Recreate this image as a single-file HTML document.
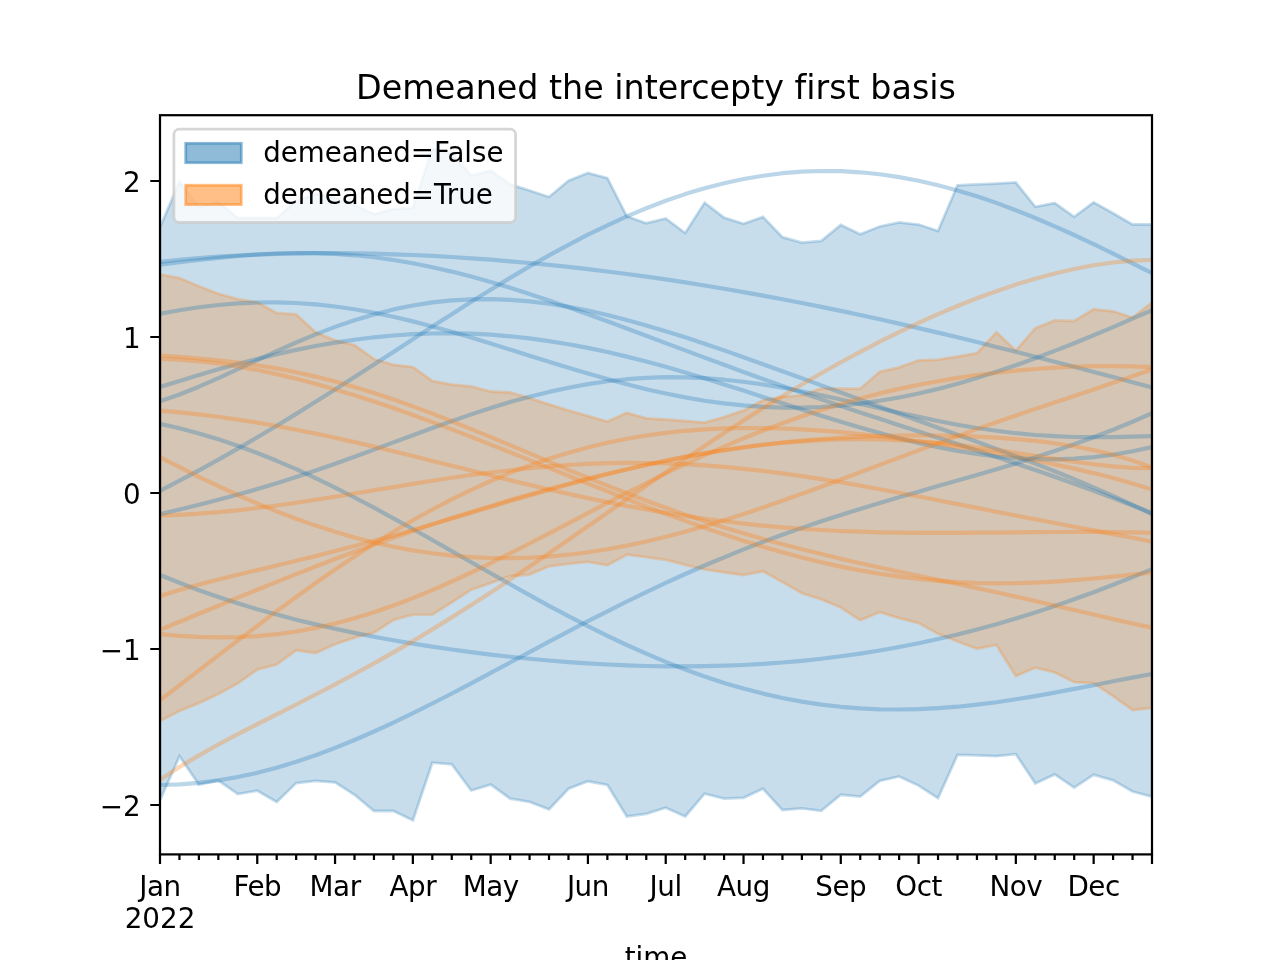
<!DOCTYPE html>
<html><head><meta charset="utf-8"><title>Demeaned the intercepty first basis</title>
<style>html,body{margin:0;padding:0;background:#fff;overflow:hidden}body{width:1280px;height:960px;position:relative}</style></head>
<body>
<svg width="1280" height="960" viewBox="0 0 1280 960" style="position:absolute;left:0;top:0">
<defs><clipPath id="ax"><rect x="160" y="115.2" width="992" height="739.2"/></clipPath></defs>
<rect width="1280" height="960" fill="#fff"/>
<g clip-path="url(#ax)" fill="none" stroke-linejoin="round" stroke-linecap="butt">
<path d="M160.0,227.3 L179.5,181.6 L198.9,207.0 L218.4,202.0 L237.8,218.0 L257.3,218.0 L276.7,218.0 L296.2,201.0 L315.6,193.8 L335.1,197.9 L354.5,205.0 L374.0,214.0 L393.4,209.0 L412.9,208.0 L432.3,149.0 L451.8,153.5 L471.2,175.7 L490.7,170.6 L510.1,184.4 L529.6,190.5 L549.0,197.0 L568.5,180.8 L587.9,173.0 L607.4,178.1 L626.8,216.3 L646.3,223.2 L665.7,218.4 L685.2,233.0 L704.6,202.7 L724.1,217.7 L743.5,223.8 L763.0,216.9 L782.4,237.2 L801.9,242.7 L821.3,240.9 L840.8,225.0 L860.2,234.2 L879.7,226.5 L899.1,222.4 L918.6,224.5 L938.0,231.0 L957.5,185.3 L976.9,184.4 L996.4,183.6 L1015.8,182.4 L1035.3,206.8 L1054.7,203.1 L1074.2,216.9 L1093.6,202.3 L1113.1,213.3 L1132.5,224.5 L1152.0,224.5 L1152.0,796.8 L1132.5,791.5 L1113.1,780.3 L1093.6,774.8 L1074.2,787.6 L1054.7,774.4 L1035.3,783.6 L1015.8,754.1 L996.4,756.2 L976.9,755.3 L957.5,754.9 L938.0,798.2 L918.6,785.6 L899.1,776.5 L879.7,780.9 L860.2,796.6 L840.8,794.8 L821.3,810.8 L801.9,808.4 L782.4,810.0 L763.0,788.7 L743.5,797.8 L724.1,798.6 L704.6,793.7 L685.2,816.5 L665.7,807.7 L646.3,813.8 L626.8,816.5 L607.4,785.0 L587.9,781.3 L568.5,788.7 L549.0,809.4 L529.6,801.9 L510.1,798.6 L490.7,784.6 L471.2,790.5 L451.8,764.3 L432.3,762.7 L412.9,820.3 L393.4,811.0 L374.0,811.0 L354.5,794.8 L335.1,782.4 L315.6,780.9 L296.2,783.0 L276.7,801.9 L257.3,790.7 L237.8,794.1 L218.4,780.5 L198.9,784.6 L179.5,756.2 L160.0,800.2 Z" fill="#1f77b4" fill-opacity="0.25" stroke="#1f77b4" stroke-opacity="0.25" stroke-width="2.78" stroke-linejoin="miter"/>
<path d="M160.0,274.4 L179.5,278.0 L198.9,286.2 L218.4,293.7 L237.8,299.2 L257.3,302.4 L276.7,313.0 L296.2,314.4 L315.6,332.3 L335.1,340.4 L354.5,345.1 L374.0,359.1 L393.4,364.8 L412.9,367.0 L432.3,380.9 L451.8,384.6 L471.2,386.4 L490.7,391.5 L510.1,392.5 L529.6,398.2 L549.0,404.3 L568.5,410.4 L587.9,415.9 L607.4,421.6 L626.8,412.8 L646.3,418.3 L665.7,419.5 L685.2,421.0 L704.6,422.6 L724.1,417.1 L743.5,410.4 L763.0,400.2 L782.4,396.8 L801.9,395.2 L821.3,388.5 L840.8,388.7 L860.2,388.7 L879.7,371.8 L899.1,367.4 L918.6,360.3 L938.0,359.7 L957.5,356.6 L976.9,353.2 L996.4,332.3 L1015.8,350.5 L1035.3,328.2 L1054.7,320.5 L1074.2,320.9 L1093.6,309.3 L1113.1,311.3 L1132.5,317.6 L1152.0,302.4 L1152.0,708.0 L1132.5,710.0 L1113.1,696.2 L1093.6,683.0 L1074.2,682.2 L1054.7,672.4 L1035.3,667.7 L1015.8,676.1 L996.4,645.0 L976.9,648.7 L957.5,641.5 L938.0,633.8 L918.6,623.1 L899.1,618.2 L879.7,612.2 L860.2,620.3 L840.8,607.5 L821.3,599.4 L801.9,593.3 L782.4,582.1 L763.0,571.3 L743.5,575.0 L724.1,572.4 L704.6,569.5 L685.2,564.8 L665.7,559.8 L646.3,557.2 L626.8,554.7 L607.4,565.3 L587.9,561.8 L568.5,563.8 L549.0,566.3 L529.6,574.6 L510.1,576.0 L490.7,583.1 L471.2,589.8 L451.8,602.4 L432.3,614.6 L412.9,614.6 L393.4,620.1 L374.0,632.7 L354.5,637.7 L335.1,644.2 L315.6,653.0 L296.2,650.3 L276.7,664.5 L257.3,669.6 L237.8,683.4 L218.4,694.0 L198.9,703.1 L179.5,710.9 L160.0,721.0 Z" fill="#ff7f0e" fill-opacity="0.25" stroke="#ff7f0e" stroke-opacity="0.25" stroke-width="2.78" stroke-linejoin="miter"/>
<path d="M160.0,261.9 L179.5,259.8 L198.9,258.1 L218.4,256.7 L237.8,255.5 L257.3,254.6 L276.7,253.9 L296.2,253.4 L315.6,253.2 L335.1,253.2 L354.5,253.4 L374.0,253.7 L393.4,254.3 L412.9,255.0 L432.3,255.9 L451.8,257.0 L471.2,258.3 L490.7,259.7 L510.1,261.3 L529.6,263.0 L549.0,264.9 L568.5,266.9 L587.9,269.1 L607.4,271.5 L626.8,274.0 L646.3,276.6 L665.7,279.4 L685.2,282.4 L704.6,285.5 L724.1,288.7 L743.5,292.1 L763.0,295.6 L782.4,299.2 L801.9,303.0 L821.3,306.9 L840.8,310.9 L860.2,315.0 L879.7,319.3 L899.1,323.6 L918.6,328.1 L938.0,332.6 L957.5,337.3 L976.9,342.0 L996.4,346.9 L1015.8,351.8 L1035.3,356.7 L1054.7,361.7 L1074.2,366.8 L1093.6,371.9 L1113.1,377.1 L1132.5,382.2 L1152.0,387.4" stroke="#1f77b4" stroke-opacity="0.3" stroke-width="4.17"/>
<path d="M160.0,264.6 L179.5,262.3 L198.9,260.0 L218.4,257.9 L237.8,256.0 L257.3,254.5 L276.7,253.5 L296.2,253.0 L315.6,253.1 L335.1,253.9 L354.5,255.3 L374.0,257.3 L393.4,260.0 L412.9,263.3 L432.3,267.2 L451.8,271.6 L471.2,276.6 L490.7,282.0 L510.1,287.8 L529.6,294.0 L549.0,300.5 L568.5,307.2 L587.9,314.2 L607.4,321.3 L626.8,328.5 L646.3,335.8 L665.7,343.1 L685.2,350.4 L704.6,357.6 L724.1,364.8 L743.5,372.0 L763.0,379.0 L782.4,385.9 L801.9,392.7 L821.3,399.4 L840.8,405.9 L860.2,412.4 L879.7,418.8 L899.1,425.2 L918.6,431.5 L938.0,437.8 L957.5,444.1 L976.9,450.5 L996.4,456.9 L1015.8,463.4 L1035.3,470.0 L1054.7,476.8 L1074.2,483.7 L1093.6,490.8 L1113.1,498.1 L1132.5,505.5 L1152.0,513.0" stroke="#1f77b4" stroke-opacity="0.3" stroke-width="4.17"/>
<path d="M160.0,313.6 L179.5,310.2 L198.9,307.3 L218.4,305.0 L237.8,303.4 L257.3,302.5 L276.7,302.4 L296.2,303.0 L315.6,304.4 L335.1,306.5 L354.5,309.3 L374.0,312.8 L393.4,316.8 L412.9,321.4 L432.3,326.4 L451.8,331.8 L471.2,337.6 L490.7,343.5 L510.1,349.6 L529.6,355.7 L549.0,361.8 L568.5,367.8 L587.9,373.6 L607.4,379.1 L626.8,384.3 L646.3,389.2 L665.7,393.5 L685.2,397.4 L704.6,400.7 L724.1,403.4 L743.5,405.4 L763.0,406.8 L782.4,407.6 L801.9,407.6 L821.3,407.0 L840.8,405.6 L860.2,403.5 L879.7,400.8 L899.1,397.5 L918.6,393.5 L938.0,388.9 L957.5,383.7 L976.9,378.0 L996.4,371.8 L1015.8,365.2 L1035.3,358.2 L1054.7,350.9 L1074.2,343.2 L1093.6,335.3 L1113.1,327.1 L1132.5,318.7 L1152.0,310.2" stroke="#1f77b4" stroke-opacity="0.3" stroke-width="4.17"/>
<path d="M160.0,387.0 L179.5,380.9 L198.9,375.0 L218.4,369.3 L237.8,363.9 L257.3,358.9 L276.7,354.2 L296.2,349.9 L315.6,346.0 L335.1,342.6 L354.5,339.7 L374.0,337.3 L393.4,335.5 L412.9,334.2 L432.3,333.5 L451.8,333.3 L471.2,333.7 L490.7,334.7 L510.1,336.3 L529.6,338.4 L549.0,341.1 L568.5,344.2 L587.9,347.9 L607.4,352.0 L626.8,356.6 L646.3,361.5 L665.7,366.8 L685.2,372.4 L704.6,378.3 L724.1,384.4 L743.5,390.6 L763.0,396.9 L782.4,403.2 L801.9,409.5 L821.3,415.7 L840.8,421.7 L860.2,427.6 L879.7,433.1 L899.1,438.2 L918.6,443.0 L938.0,447.2 L957.5,450.9 L976.9,454.0 L996.4,456.5 L1015.8,458.2 L1035.3,459.2 L1054.7,459.3 L1074.2,458.7 L1093.6,457.1 L1113.1,454.7 L1132.5,451.3 L1152.0,447.1" stroke="#1f77b4" stroke-opacity="0.3" stroke-width="4.17"/>
<path d="M160.0,401.2 L179.5,394.5 L198.9,386.7 L218.4,378.1 L237.8,369.2 L257.3,360.1 L276.7,351.1 L296.2,342.5 L315.6,334.4 L335.1,326.9 L354.5,320.2 L374.0,314.4 L393.4,309.4 L412.9,305.5 L432.3,302.4 L451.8,300.4 L471.2,299.3 L490.7,299.1 L510.1,299.8 L529.6,301.4 L549.0,303.8 L568.5,306.9 L587.9,310.6 L607.4,315.0 L626.8,320.0 L646.3,325.4 L665.7,331.2 L685.2,337.3 L704.6,343.8 L724.1,350.4 L743.5,357.3 L763.0,364.2 L782.4,371.3 L801.9,378.3 L821.3,385.4 L840.8,392.5 L860.2,399.6 L879.7,406.7 L899.1,413.7 L918.6,420.7 L938.0,427.7 L957.5,434.7 L976.9,441.8 L996.4,448.9 L1015.8,456.2 L1035.3,463.6 L1054.7,471.2 L1074.2,479.1 L1093.6,487.3 L1113.1,495.8 L1132.5,504.8 L1152.0,514.2" stroke="#1f77b4" stroke-opacity="0.3" stroke-width="4.17"/>
<path d="M160.0,423.8 L179.5,428.3 L198.9,433.4 L218.4,439.3 L237.8,445.8 L257.3,453.0 L276.7,460.8 L296.2,469.2 L315.6,478.2 L335.1,487.6 L354.5,497.5 L374.0,507.7 L393.4,518.3 L412.9,529.0 L432.3,540.0 L451.8,551.1 L471.2,562.2 L490.7,573.3 L510.1,584.3 L529.6,595.1 L549.0,605.8 L568.5,616.1 L587.9,626.2 L607.4,635.8 L626.8,645.0 L646.3,653.7 L665.7,661.9 L685.2,669.5 L704.6,676.5 L724.1,682.9 L743.5,688.6 L763.0,693.6 L782.4,698.0 L801.9,701.6 L821.3,704.6 L840.8,706.8 L860.2,708.4 L879.7,709.3 L899.1,709.5 L918.6,709.1 L938.0,708.2 L957.5,706.7 L976.9,704.6 L996.4,702.2 L1015.8,699.3 L1035.3,696.1 L1054.7,692.6 L1074.2,688.9 L1093.6,685.2 L1113.1,681.3 L1132.5,677.6 L1152.0,674.0" stroke="#1f77b4" stroke-opacity="0.3" stroke-width="4.17"/>
<path d="M160.0,490.9 L179.5,480.7 L198.9,470.3 L218.4,459.6 L237.8,448.6 L257.3,437.3 L276.7,425.8 L296.2,413.9 L315.6,401.8 L335.1,389.5 L354.5,377.1 L374.0,364.5 L393.4,351.9 L412.9,339.3 L432.3,326.6 L451.8,314.2 L471.2,301.8 L490.7,289.7 L510.1,277.9 L529.6,266.4 L549.0,255.4 L568.5,244.8 L587.9,234.7 L607.4,225.3 L626.8,216.4 L646.3,208.3 L665.7,200.8 L685.2,194.1 L704.6,188.3 L724.1,183.2 L743.5,179.0 L763.0,175.7 L782.4,173.2 L801.9,171.6 L821.3,171.0 L840.8,171.2 L860.2,172.3 L879.7,174.3 L899.1,177.1 L918.6,180.8 L938.0,185.2 L957.5,190.4 L976.9,196.3 L996.4,202.9 L1015.8,210.2 L1035.3,218.0 L1054.7,226.3 L1074.2,235.0 L1093.6,244.1 L1113.1,253.6 L1132.5,263.3 L1152.0,273.2" stroke="#1f77b4" stroke-opacity="0.3" stroke-width="4.17"/>
<path d="M160.0,514.2 L179.5,509.5 L198.9,504.7 L218.4,499.8 L237.8,494.6 L257.3,489.1 L276.7,483.2 L296.2,477.1 L315.6,470.6 L335.1,463.8 L354.5,456.8 L374.0,449.6 L393.4,442.4 L412.9,435.2 L432.3,428.0 L451.8,421.1 L471.2,414.4 L490.7,408.1 L510.1,402.1 L529.6,396.7 L549.0,391.9 L568.5,387.7 L587.9,384.1 L607.4,381.3 L626.8,379.2 L646.3,377.8 L665.7,377.2 L685.2,377.3 L704.6,378.2 L724.1,379.7 L743.5,381.8 L763.0,384.5 L782.4,387.7 L801.9,391.3 L821.3,395.3 L840.8,399.5 L860.2,403.9 L879.7,408.3 L899.1,412.7 L918.6,416.9 L938.0,421.0 L957.5,424.7 L976.9,428.0 L996.4,430.8 L1015.8,433.2 L1035.3,435.0 L1054.7,436.2 L1074.2,437.0 L1093.6,437.2 L1113.1,437.1 L1132.5,436.6 L1152.0,436.1" stroke="#1f77b4" stroke-opacity="0.3" stroke-width="4.17"/>
<path d="M160.0,574.9 L179.5,582.8 L198.9,590.2 L218.4,597.0 L237.8,603.3 L257.3,609.2 L276.7,614.6 L296.2,619.7 L315.6,624.4 L335.1,628.8 L354.5,632.9 L374.0,636.7 L393.4,640.2 L412.9,643.6 L432.3,646.6 L451.8,649.5 L471.2,652.1 L490.7,654.6 L510.1,656.8 L529.6,658.8 L549.0,660.5 L568.5,662.1 L587.9,663.4 L607.4,664.5 L626.8,665.4 L646.3,666.0 L665.7,666.3 L685.2,666.4 L704.6,666.2 L724.1,665.7 L743.5,665.0 L763.0,663.9 L782.4,662.5 L801.9,660.8 L821.3,658.7 L840.8,656.3 L860.2,653.6 L879.7,650.5 L899.1,647.0 L918.6,643.2 L938.0,639.0 L957.5,634.5 L976.9,629.5 L996.4,624.2 L1015.8,618.5 L1035.3,612.5 L1054.7,606.1 L1074.2,599.3 L1093.6,592.2 L1113.1,584.8 L1132.5,577.1 L1152.0,569.1" stroke="#1f77b4" stroke-opacity="0.3" stroke-width="4.17"/>
<path d="M160.0,785.0 L179.5,784.4 L198.9,782.8 L218.4,780.4 L237.8,777.0 L257.3,772.8 L276.7,767.7 L296.2,761.8 L315.6,755.2 L335.1,747.9 L354.5,740.0 L374.0,731.5 L393.4,722.6 L412.9,713.2 L432.3,703.5 L451.8,693.5 L471.2,683.3 L490.7,672.9 L510.1,662.5 L529.6,652.1 L549.0,641.7 L568.5,631.4 L587.9,621.2 L607.4,611.3 L626.8,601.5 L646.3,592.1 L665.7,582.9 L685.2,574.0 L704.6,565.5 L724.1,557.3 L743.5,549.4 L763.0,541.9 L782.4,534.7 L801.9,527.9 L821.3,521.3 L840.8,515.0 L860.2,508.9 L879.7,503.0 L899.1,497.3 L918.6,491.7 L938.0,486.1 L957.5,480.6 L976.9,475.0 L996.4,469.3 L1015.8,463.4 L1035.3,457.3 L1054.7,451.0 L1074.2,444.3 L1093.6,437.2 L1113.1,429.7 L1132.5,421.7 L1152.0,413.2" stroke="#1f77b4" stroke-opacity="0.3" stroke-width="4.17"/>
<path d="M160.0,355.5 L179.5,356.9 L198.9,358.5 L218.4,360.3 L237.8,362.5 L257.3,365.2 L276.7,368.4 L296.2,372.2 L315.6,376.6 L335.1,381.5 L354.5,387.0 L374.0,393.0 L393.4,399.4 L412.9,406.4 L432.3,413.6 L451.8,421.2 L471.2,429.1 L490.7,437.1 L510.1,445.2 L529.6,453.4 L549.0,461.6 L568.5,469.8 L587.9,477.8 L607.4,485.6 L626.8,493.3 L646.3,500.7 L665.7,507.8 L685.2,514.6 L704.6,521.2 L724.1,527.4 L743.5,533.3 L763.0,538.9 L782.4,544.3 L801.9,549.3 L821.3,554.1 L840.8,558.7 L860.2,563.2 L879.7,567.5 L899.1,571.7 L918.6,575.8 L938.0,579.9 L957.5,584.0 L976.9,588.1 L996.4,592.3 L1015.8,596.6 L1035.3,601.0 L1054.7,605.5 L1074.2,610.0 L1093.6,614.5 L1113.1,619.1 L1132.5,623.5 L1152.0,627.7" stroke="#ff7f0e" stroke-opacity="0.3" stroke-width="4.17"/>
<path d="M160.0,359.0 L179.5,359.7 L198.9,361.3 L218.4,363.5 L237.8,366.4 L257.3,370.0 L276.7,374.1 L296.2,378.7 L315.6,383.8 L335.1,389.4 L354.5,395.3 L374.0,401.6 L393.4,408.1 L412.9,415.0 L432.3,422.1 L451.8,429.4 L471.2,436.9 L490.7,444.6 L510.1,452.3 L529.6,460.1 L549.0,467.9 L568.5,475.8 L587.9,483.6 L607.4,491.3 L626.8,499.0 L646.3,506.5 L665.7,513.8 L685.2,520.9 L704.6,527.8 L724.1,534.4 L743.5,540.7 L763.0,546.7 L782.4,552.3 L801.9,557.5 L821.3,562.2 L840.8,566.6 L860.2,570.4 L879.7,573.8 L899.1,576.6 L918.6,579.0 L938.0,580.8 L957.5,582.2 L976.9,583.0 L996.4,583.3 L1015.8,583.2 L1035.3,582.6 L1054.7,581.6 L1074.2,580.2 L1093.6,578.5 L1113.1,576.6 L1132.5,574.6 L1152.0,572.5" stroke="#ff7f0e" stroke-opacity="0.3" stroke-width="4.17"/>
<path d="M160.0,410.7 L179.5,412.4 L198.9,414.4 L218.4,416.8 L237.8,419.6 L257.3,422.6 L276.7,426.0 L296.2,429.7 L315.6,433.6 L335.1,437.7 L354.5,442.1 L374.0,446.6 L393.4,451.3 L412.9,456.1 L432.3,460.9 L451.8,465.8 L471.2,470.6 L490.7,475.5 L510.1,480.2 L529.6,484.9 L549.0,489.5 L568.5,493.9 L587.9,498.1 L607.4,502.1 L626.8,505.9 L646.3,509.5 L665.7,512.9 L685.2,515.9 L704.6,518.8 L724.1,521.3 L743.5,523.6 L763.0,525.6 L782.4,527.3 L801.9,528.8 L821.3,530.0 L840.8,531.0 L860.2,531.7 L879.7,532.3 L899.1,532.7 L918.6,532.9 L938.0,532.9 L957.5,532.9 L976.9,532.7 L996.4,532.6 L1015.8,532.4 L1035.3,532.2 L1054.7,532.0 L1074.2,531.9 L1093.6,531.9 L1113.1,532.1 L1132.5,532.4 L1152.0,532.9" stroke="#ff7f0e" stroke-opacity="0.3" stroke-width="4.17"/>
<path d="M160.0,457.2 L179.5,467.2 L198.9,476.9 L218.4,486.2 L237.8,495.0 L257.3,503.5 L276.7,511.4 L296.2,518.8 L315.6,525.6 L335.1,531.8 L354.5,537.5 L374.0,542.4 L393.4,546.7 L412.9,550.4 L432.3,553.3 L451.8,555.6 L471.2,557.2 L490.7,558.0 L510.1,558.2 L529.6,557.7 L549.0,556.5 L568.5,554.7 L587.9,552.3 L607.4,549.2 L626.8,545.6 L646.3,541.5 L665.7,536.8 L685.2,531.7 L704.6,526.2 L724.1,520.3 L743.5,514.1 L763.0,507.5 L782.4,500.8 L801.9,493.8 L821.3,486.7 L840.8,479.5 L860.2,472.2 L879.7,464.9 L899.1,457.6 L918.6,450.4 L938.0,443.2 L957.5,436.1 L976.9,429.1 L996.4,422.3 L1015.8,415.5 L1035.3,408.9 L1054.7,402.4 L1074.2,395.9 L1093.6,389.4 L1113.1,382.8 L1132.5,376.2 L1152.0,369.3" stroke="#ff7f0e" stroke-opacity="0.3" stroke-width="4.17"/>
<path d="M160.0,515.5 L179.5,514.8 L198.9,513.7 L218.4,512.1 L237.8,510.3 L257.3,508.0 L276.7,505.5 L296.2,502.8 L315.6,499.8 L335.1,496.7 L354.5,493.5 L374.0,490.3 L393.4,487.1 L412.9,483.9 L432.3,480.8 L451.8,477.8 L471.2,475.0 L490.7,472.5 L510.1,470.2 L529.6,468.1 L549.0,466.4 L568.5,465.0 L587.9,463.9 L607.4,463.2 L626.8,462.9 L646.3,463.0 L665.7,463.4 L685.2,464.2 L704.6,465.4 L724.1,466.9 L743.5,468.8 L763.0,470.9 L782.4,473.4 L801.9,476.1 L821.3,479.1 L840.8,482.3 L860.2,485.6 L879.7,489.2 L899.1,492.8 L918.6,496.5 L938.0,500.3 L957.5,504.1 L976.9,507.9 L996.4,511.7 L1015.8,515.5 L1035.3,519.3 L1054.7,523.0 L1074.2,526.7 L1093.6,530.4 L1113.1,534.1 L1132.5,537.8 L1152.0,541.7" stroke="#ff7f0e" stroke-opacity="0.3" stroke-width="4.17"/>
<path d="M160.0,595.9 L179.5,589.9 L198.9,584.5 L218.4,579.5 L237.8,574.8 L257.3,570.1 L276.7,565.5 L296.2,560.8 L315.6,556.1 L335.1,551.1 L354.5,546.1 L374.0,540.8 L393.4,535.4 L412.9,529.9 L432.3,524.2 L451.8,518.5 L471.2,512.7 L490.7,506.9 L510.1,501.1 L529.6,495.5 L549.0,489.9 L568.5,484.5 L587.9,479.2 L607.4,474.2 L626.8,469.5 L646.3,465.0 L665.7,460.8 L685.2,456.9 L704.6,453.4 L724.1,450.2 L743.5,447.3 L763.0,444.7 L782.4,442.5 L801.9,440.6 L821.3,439.0 L840.8,437.7 L860.2,436.7 L879.7,436.0 L899.1,435.6 L918.6,435.4 L938.0,435.5 L957.5,435.9 L976.9,436.6 L996.4,437.7 L1015.8,439.1 L1035.3,440.9 L1054.7,443.3 L1074.2,446.3 L1093.6,450.1 L1113.1,454.8 L1132.5,460.5 L1152.0,467.5" stroke="#ff7f0e" stroke-opacity="0.3" stroke-width="4.17"/>
<path d="M160.0,629.7 L179.5,621.8 L198.9,613.8 L218.4,605.8 L237.8,597.7 L257.3,589.8 L276.7,581.9 L296.2,574.1 L315.6,566.5 L335.1,559.0 L354.5,551.7 L374.0,544.6 L393.4,537.7 L412.9,531.0 L432.3,524.4 L451.8,518.1 L471.2,511.9 L490.7,505.9 L510.1,500.0 L529.6,494.4 L549.0,488.9 L568.5,483.7 L587.9,478.6 L607.4,473.8 L626.8,469.2 L646.3,464.8 L665.7,460.7 L685.2,456.9 L704.6,453.4 L724.1,450.2 L743.5,447.4 L763.0,444.9 L782.4,442.9 L801.9,441.3 L821.3,440.1 L840.8,439.4 L860.2,439.2 L879.7,439.4 L899.1,440.1 L918.6,441.3 L938.0,442.9 L957.5,444.9 L976.9,447.2 L996.4,449.9 L1015.8,452.8 L1035.3,455.8 L1054.7,458.8 L1074.2,461.7 L1093.6,464.3 L1113.1,466.4 L1132.5,467.8 L1152.0,468.2" stroke="#ff7f0e" stroke-opacity="0.3" stroke-width="4.17"/>
<path d="M160.0,634.1 L179.5,635.8 L198.9,636.9 L218.4,637.4 L237.8,637.1 L257.3,636.1 L276.7,634.2 L296.2,631.5 L315.6,627.9 L335.1,623.5 L354.5,618.2 L374.0,612.2 L393.4,605.5 L412.9,598.1 L432.3,590.1 L451.8,581.5 L471.2,572.5 L490.7,563.1 L510.1,553.4 L529.6,543.5 L549.0,533.4 L568.5,523.3 L587.9,513.1 L607.4,502.9 L626.8,492.9 L646.3,483.1 L665.7,473.5 L685.2,464.2 L704.6,455.2 L724.1,446.6 L743.5,438.3 L763.0,430.5 L782.4,423.2 L801.9,416.3 L821.3,409.9 L840.8,403.9 L860.2,398.4 L879.7,393.4 L899.1,388.9 L918.6,384.8 L938.0,381.2 L957.5,377.9 L976.9,375.1 L996.4,372.7 L1015.8,370.6 L1035.3,369.0 L1054.7,367.7 L1074.2,366.7 L1093.6,366.2 L1113.1,366.1 L1132.5,366.3 L1152.0,367.1" stroke="#ff7f0e" stroke-opacity="0.3" stroke-width="4.17"/>
<path d="M160.0,700.2 L179.5,685.4 L198.9,670.4 L218.4,655.4 L237.8,640.5 L257.3,625.8 L276.7,611.2 L296.2,597.0 L315.6,583.0 L335.1,569.5 L354.5,556.4 L374.0,543.8 L393.4,531.8 L412.9,520.3 L432.3,509.5 L451.8,499.3 L471.2,489.8 L490.7,481.0 L510.1,472.8 L529.6,465.4 L549.0,458.7 L568.5,452.7 L587.9,447.4 L607.4,442.8 L626.8,438.8 L646.3,435.5 L665.7,432.9 L685.2,430.8 L704.6,429.4 L724.1,428.4 L743.5,428.0 L763.0,428.1 L782.4,428.5 L801.9,429.4 L821.3,430.7 L840.8,432.2 L860.2,434.1 L879.7,436.2 L899.1,438.6 L918.6,441.2 L938.0,443.9 L957.5,446.9 L976.9,450.0 L996.4,453.3 L1015.8,456.8 L1035.3,460.5 L1054.7,464.4 L1074.2,468.6 L1093.6,473.1 L1113.1,478.1 L1132.5,483.5 L1152.0,489.6" stroke="#ff7f0e" stroke-opacity="0.3" stroke-width="4.17"/>
<path d="M160.0,779.7 L179.5,767.0 L198.9,755.4 L218.4,744.5 L237.8,734.2 L257.3,724.2 L276.7,714.3 L296.2,704.5 L315.6,694.5 L335.1,684.4 L354.5,674.0 L374.0,663.4 L393.4,652.4 L412.9,641.1 L432.3,629.4 L451.8,617.4 L471.2,605.1 L490.7,592.4 L510.1,579.6 L529.6,566.5 L549.0,553.2 L568.5,539.8 L587.9,526.3 L607.4,512.7 L626.8,499.2 L646.3,485.7 L665.7,472.3 L685.2,459.0 L704.6,446.0 L724.1,433.1 L743.5,420.5 L763.0,408.2 L782.4,396.2 L801.9,384.5 L821.3,373.2 L840.8,362.3 L860.2,351.8 L879.7,341.7 L899.1,332.1 L918.6,322.9 L938.0,314.2 L957.5,306.0 L976.9,298.3 L996.4,291.2 L1015.8,284.6 L1035.3,278.7 L1054.7,273.5 L1074.2,269.0 L1093.6,265.3 L1113.1,262.5 L1132.5,260.7 L1152.0,260.0" stroke="#ff7f0e" stroke-opacity="0.3" stroke-width="4.17"/>
</g>
<path d="M160.00,854.4v9.72 M179.45,854.4v5.56 M198.90,854.4v5.56 M218.35,854.4v5.56 M237.80,854.4v5.56 M257.25,854.4v9.72 M276.71,854.4v5.56 M296.16,854.4v5.56 M315.61,854.4v5.56 M335.06,854.4v9.72 M354.51,854.4v5.56 M373.96,854.4v5.56 M393.41,854.4v5.56 M412.86,854.4v9.72 M432.31,854.4v5.56 M451.76,854.4v5.56 M471.22,854.4v5.56 M490.67,854.4v9.72 M510.12,854.4v5.56 M529.57,854.4v5.56 M549.02,854.4v5.56 M568.47,854.4v5.56 M587.92,854.4v9.72 M607.37,854.4v5.56 M626.82,854.4v5.56 M646.27,854.4v5.56 M665.73,854.4v9.72 M685.18,854.4v5.56 M704.63,854.4v5.56 M724.08,854.4v5.56 M743.53,854.4v9.72 M762.98,854.4v5.56 M782.43,854.4v5.56 M801.88,854.4v5.56 M821.33,854.4v5.56 M840.78,854.4v9.72 M860.24,854.4v5.56 M879.69,854.4v5.56 M899.14,854.4v5.56 M918.59,854.4v9.72 M938.04,854.4v5.56 M957.49,854.4v5.56 M976.94,854.4v5.56 M996.39,854.4v5.56 M1015.84,854.4v9.72 M1035.29,854.4v5.56 M1054.75,854.4v5.56 M1074.20,854.4v5.56 M1093.65,854.4v9.72 M1113.10,854.4v5.56 M1132.55,854.4v5.56 M1152.00,854.4v9.72 M160,805.0h-9.72 M160,649.0h-9.72 M160,493.0h-9.72 M160,337.0h-9.72 M160,181.0h-9.72" stroke="#000" stroke-width="2.22" fill="none"/>
<rect x="160" y="115.2" width="992" height="739.2" fill="none" stroke="#000" stroke-width="2.22" stroke-linejoin="miter"/>
<rect x="173.9" y="129.1" width="341.7" height="93.4" rx="5.5" ry="5.5" fill="#fff" fill-opacity="0.8" stroke="#ccc" stroke-opacity="0.8" stroke-width="2.78"/>
<rect x="185.7" y="143.3" width="55.6" height="19.4" fill="#1f77b4" fill-opacity="0.5" stroke="#1f77b4" stroke-opacity="0.5" stroke-width="2.78"/>
<rect x="185.7" y="185.2" width="55.6" height="19.4" fill="#ff7f0e" fill-opacity="0.5" stroke="#ff7f0e" stroke-opacity="0.5" stroke-width="2.78"/>
<g font-family="DejaVu Sans, Liberation Sans, sans-serif" fill="#000" style="font-variant-ligatures:none;font-feature-settings:&quot;liga&quot; 0,&quot;clig&quot; 0" font-size="27.78">
<text x="263.2" y="161.95" font-size="27.68">demeaned=False</text>
<text x="263.2" y="203.7" font-size="27.68">demeaned=True</text>
<text x="160.0" y="896" text-anchor="middle" letter-spacing="-0.45">Jan</text>
<text x="257.3" y="896" text-anchor="middle" letter-spacing="-0.45">Feb</text>
<text x="335.1" y="896" text-anchor="middle" letter-spacing="-0.45">Mar</text>
<text x="412.9" y="896" text-anchor="middle" letter-spacing="-0.45">Apr</text>
<text x="490.7" y="896" text-anchor="middle" letter-spacing="-0.45">May</text>
<text x="587.9" y="896" text-anchor="middle" letter-spacing="-0.45">Jun</text>
<text x="665.7" y="896" text-anchor="middle" letter-spacing="-0.45">Jul</text>
<text x="743.5" y="896" text-anchor="middle" letter-spacing="-0.45">Aug</text>
<text x="840.8" y="896" text-anchor="middle" letter-spacing="-0.45">Sep</text>
<text x="918.6" y="896" text-anchor="middle" letter-spacing="-0.45">Oct</text>
<text x="1015.8" y="896" text-anchor="middle" letter-spacing="-0.45">Nov</text>
<text x="1093.6" y="896" text-anchor="middle" letter-spacing="-0.45">Dec</text>
<text x="160" y="928" text-anchor="middle">2022</text>
<text x="140.6" y="815.5" text-anchor="end">−2</text>
<text x="140.6" y="659.5" text-anchor="end">−1</text>
<text x="140.6" y="503.5" text-anchor="end">0</text>
<text x="140.6" y="347.5" text-anchor="end">1</text>
<text x="140.6" y="191.5" text-anchor="end">2</text>
<text x="656" y="966.5" text-anchor="middle">time</text>
</g>
<text font-family="DejaVu Sans, Liberation Sans, sans-serif" fill="#000" style="font-variant-ligatures:none;font-feature-settings:&quot;liga&quot; 0,&quot;clig&quot; 0" font-size="33.33" x="656" y="98.5" text-anchor="middle">Demeaned the intercepty first basis</text>
</svg>
</body></html>
